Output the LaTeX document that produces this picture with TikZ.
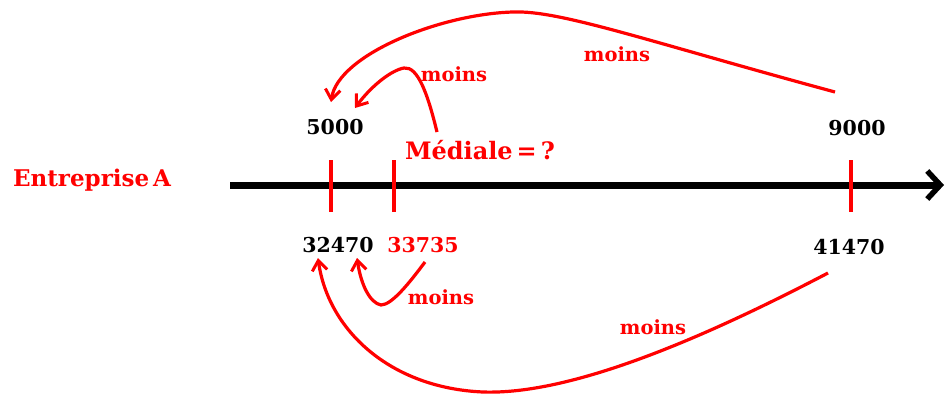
\documentclass[tikz,border=0pt]{standalone}
\usepackage{fontspec}
\setmainfont{DejaVu Serif}
\usetikzlibrary{arrows.meta}
\definecolor{myred}{RGB}{255,0,0}
\tikzset{
  redarrow/.style={draw=myred, line width=3.2pt, -{Straight Barb[length=10pt,width=15pt,line width=3pt]}},
  tick/.style={draw=myred, line width=3.4pt},
  numtxt/.style={font=\bfseries\fontsize{20.5}{20.5}\selectfont, text=black, inner sep=0pt},
  redtxt/.style={font=\bfseries\fontsize{20.5}{20.5}\selectfont, text=myred, inner sep=0pt},
  moinstxt/.style={font=\bfseries\fontsize{19.5}{19.5}\selectfont, text=myred, inner sep=0pt},
}
\begin{document}
\begin{tikzpicture}[x=1pt,y=-1pt]
\useasboundingbox (0,0) rectangle (948,394);
% axis
\coordinate (ax0) at (230,185);
\coordinate (ax1) at (944,185);
\draw[line width=7pt, -{Straight Barb[length=13pt,width=28pt,line width=5.5pt]}] (ax0) -- (ax1);
% ticks
\coordinate (t1a) at (331,160); \coordinate (t1b) at (331,212);
\coordinate (t2a) at (394,160); \coordinate (t2b) at (394,212);
\coordinate (t3a) at (851,160); \coordinate (t3b) at (851,212);
\draw[tick] (t1a) -- (t1b);
\draw[tick] (t2a) -- (t2b);
\draw[tick] (t3a) -- (t3b);
% labels
\node[redtxt, font=\bfseries\fontsize{23}{23}\selectfont] (ent) at (92,180) {Entreprise\,A};
\node[numtxt] (n5000) at (335,127) {5000};
\node[numtxt] (n9000) at (857,128) {9000};
\node[redtxt, font=\bfseries\fontsize{24}{24}\selectfont] (med) at (480,150) {Médiale\,=\,?};
\node[numtxt] (n32470) at (338,245) {32470};
\node[redtxt] (n33735) at (423,245) {33735};
\node[numtxt] (n41470) at (849,247) {41470};
\node[moinstxt] (m1) at (454,74) {moins};
\node[moinstxt] (m2) at (617,54) {moins};
\node[moinstxt] (m3) at (441,297) {moins};
\node[moinstxt] (m4) at (653,327) {moins};
% arrows
\coordinate (a1s) at (835,92);
\coordinate (a1e) at (331,102);
\draw[redarrow] (a1s) .. controls (650,42) and (560,10) .. (513,12) .. controls (440,14) and (338,55) .. (a1e);
\coordinate (a2s) at (437,132);
\coordinate (a2e) at (355,108);
\draw[redarrow] (a2s) .. controls (428,95) and (418,66) .. (404,68) .. controls (392,70) and (372,85) .. (a2e);
\coordinate (a3s) at (425,262);
\coordinate (a3e) at (357,258);
\draw[redarrow] (a3s) .. controls (410,282) and (392,305) .. (381,305) .. controls (370,303) and (361,285) .. (a3e);
\coordinate (a4s) at (828,273);
\coordinate (a4e) at (318,258);
\draw[redarrow] (a4s) .. controls (700,340) and (570,395) .. (483,392) .. controls (390,388) and (328,330) .. (a4e);
\end{tikzpicture}
\end{document}
